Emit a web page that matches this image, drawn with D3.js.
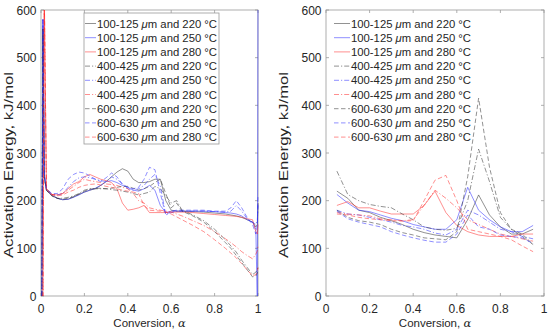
<!DOCTYPE html>
<html>
<head>
<meta charset="utf-8">
<script src="https://cdn.jsdelivr.net/npm/d3@7"></script>
<style>
  body { margin: 0; background: #fff; }
  text { font-family: "Liberation Sans", Arial, sans-serif; fill: #262626; }
</style>
</head>
<body>
<div id="canvas"></div>
<script>
// left panel: conversion grid and activation energy (kJ/mol)
const alphaL = [0.004, 0.009, 0.015, 0.025, 0.05, 0.075, 0.1, 0.125, 0.15, 0.175, 0.2, 0.225, 0.25, 0.275,
  0.3, 0.325, 0.35, 0.375, 0.4, 0.425, 0.45, 0.475, 0.5, 0.525, 0.55, 0.575, 0.6, 0.625, 0.65, 0.7,
  0.75, 0.8, 0.85, 0.875, 0.9, 0.925, 0.95, 0.975, 0.99, 0.997, 1.0];

const left100_220 = [0, 560, 250, 222, 210, 205, 202, 203, 208, 213, 218, 222, 225, 232, 240, 250, 260, 267, 262, 245, 238, 238, 240, 245, 245, 200, 180, 178, 178, 177, 176, 174, 172, 170, 168, 165, 160, 155, 145, 150, 195];
const left100_250 = [0, 580, 255, 222, 212, 205, 202, 203, 207, 212, 218, 222, 226, 232, 240, 242, 238, 232, 228, 222, 220, 225, 232, 222, 190, 175, 178, 178, 178, 178, 178, 177, 175, 174, 172, 168, 160, 155, 140, -20, 640];
const left100_280 = [0, 0, 640, 225, 213, 212, 215, 225, 235, 240, 250, 255, 250, 245, 242, 238, 225, 195, 180, 182, 185, 190, 175, 175, 175, 175, 176, 176, 176, 175, 173, 171, 169, 168, 167, 165, 162, 160, 135, 130, 150];
const left400_220 = [0, 560, 250, 222, 212, 205, 205, 207, 210, 215, 222, 225, 225, 225, 225, 223, 222, 220, 218, 215, 212, 215, 218, 230, 225, 210, 195, 200, 180, 170, 158, 140, 118, 105, 92, 75, 60, 45, 50, 55, 60];
const left400_250 = [0, 580, 255, 225, 213, 212, 215, 228, 240, 248, 250, 248, 245, 242, 240, 250, 245, 235, 225, 222, 225, 232, 245, 255, 230, 170, 175, 178, 178, 178, 178, 177, 176, 178, 190, 178, 162, 155, 150, 160, 190];
const left400_280 = [0, 0, 640, 225, 213, 212, 215, 222, 230, 238, 245, 242, 240, 238, 235, 234, 232, 228, 225, 215, 200, 195, 185, 182, 180, 178, 176, 172, 168, 158, 148, 135, 120, 112, 103, 93, 85, 78, 88, 95, 105];
const left600_220 = [0, 560, 250, 222, 210, 205, 203, 205, 208, 214, 220, 224, 226, 226, 225, 226, 228, 230, 230, 226, 222, 225, 230, 238, 245, 215, 185, 195, 178, 168, 155, 135, 112, 100, 85, 70, 55, 40, 42, 48, 55];
const left600_250 = [0, 580, 255, 225, 215, 215, 225, 245, 255, 260, 258, 252, 245, 240, 248, 258, 250, 235, 228, 225, 228, 245, 270, 265, 215, 170, 178, 180, 180, 180, 180, 178, 178, 185, 200, 185, 165, 150, 130, 150, 210];
const left600_280 = [0, 0, 640, 225, 212, 210, 212, 218, 222, 228, 232, 234, 235, 233, 230, 228, 225, 222, 220, 218, 215, 190, 180, 179, 178, 176, 172, 166, 160, 148, 135, 118, 100, 90, 80, 68, 55, 42, 45, 52, 60];

// right panel
const alphaR = [0.05, 0.1, 0.15, 0.2, 0.25, 0.3, 0.35, 0.4, 0.45, 0.5, 0.55, 0.6, 0.65, 0.7, 0.75, 0.8, 0.85, 0.9, 0.95];

const right100_220 = [220, 205, 180, 175, 165, 158, 150, 140, 133, 128, 125, 122, 160, 212, 170, 145, 130, 130, 140];
const right100_250 = [213, 195, 180, 177, 170, 163, 158, 150, 145, 140, 140, 160, 228, 180, 160, 145, 135, 135, 148];
const right100_280 = [190, 198, 185, 185, 178, 172, 172, 172, 190, 220, 175, 148, 135, 128, 125, 125, 125, 130, 130];
const right400_220 = [262, 213, 200, 192, 188, 185, 172, 160, 145, 140, 138, 142, 200, 308, 240, 165, 140, 125, 108];
const right400_250 = [180, 172, 170, 165, 160, 155, 148, 145, 140, 132, 128, 140, 180, 170, 155, 140, 135, 125, 120];
const right400_280 = [175, 172, 170, 168, 162, 160, 158, 160, 190, 222, 205, 185, 160, 150, 140, 130, 125, 120, 115];
const right600_220 = [180, 165, 158, 155, 150, 140, 133, 128, 122, 120, 118, 135, 250, 415, 270, 175, 140, 130, 108];
const right600_250 = [178, 162, 155, 150, 145, 135, 128, 122, 117, 113, 113, 130, 170, 145, 140, 128, 125, 122, 110];
const right600_280 = [172, 170, 165, 162, 160, 158, 157, 158, 200, 243, 253, 200, 140, 135, 130, 125, 118, 105, 93];

const labels = ["100-125", "100-125", "100-125", "400-425", "400-425", "400-425", "600-630", "600-630", "600-630"];
const temps = ["220", "250", "280", "220", "250", "280", "220", "250", "280"];
const yTicks = [0, 100, 200, 300, 400, 500, 600];
const xTicks = [0, 0.2, 0.4, 0.6, 0.8, 1];

const leftSeries = [left100_220, left100_250, left100_280, left400_220, left400_250, left400_280, left600_220, left600_250, left600_280];
const rightSeries = [right100_220, right100_250, right100_280, right400_220, right400_250, right400_280, right600_220, right600_250, right600_280];

const colors = ["#303030", "#2a2aff", "#ff2a2a"];
const dashes = [null, "5,2,1.2,2", "4.5,2.5"];

const width = 550, height = 336;
const svg = d3.select("#canvas").append("svg")
  .attr("width", width).attr("height", height);

function panel(id, x0, x1, alphas, series, legendBox, ylabX) {
  const top = 10, bottom = 296;
  const x = d3.scaleLinear().domain([0, 1]).range([x0, x1]);
  const y = d3.scaleLinear().domain([0, 600]).range([bottom, top]);

  svg.append("clipPath").attr("id", id)
    .append("rect").attr("x", x0 - 1).attr("y", top).attr("width", x1 - x0 + 2).attr("height", bottom - top);

  const g = svg.append("g");

  // axes box with inward ticks on all sides (drawn below the data)
  const axisCol = "#9a9a9a";
  const ax = g.append("g");
  ax.append("rect").attr("x", x0).attr("y", top).attr("width", x1 - x0).attr("height", bottom - top)
    .attr("fill", "none").attr("stroke", axisCol).attr("stroke-width", 0.8);
  xTicks.forEach(t => {
    ax.append("line").attr("x1", x(t)).attr("x2", x(t)).attr("y1", bottom).attr("y2", bottom - 3)
      .attr("stroke", axisCol).attr("stroke-width", 0.8);
    ax.append("line").attr("x1", x(t)).attr("x2", x(t)).attr("y1", top).attr("y2", top + 3)
      .attr("stroke", axisCol).attr("stroke-width", 0.8);
    ax.append("text").attr("x", x(t)).attr("y", bottom + 17)
      .attr("text-anchor", "middle").attr("font-size", 12).text(t);
  });
  yTicks.forEach(t => {
    ax.append("line").attr("x1", x0).attr("x2", x0 + 3).attr("y1", y(t)).attr("y2", y(t))
      .attr("stroke", axisCol).attr("stroke-width", 0.8);
    ax.append("line").attr("x1", x1).attr("x2", x1 - 3).attr("y1", y(t)).attr("y2", y(t))
      .attr("stroke", axisCol).attr("stroke-width", 0.8);
    ax.append("text").attr("x", x0 - 4.5).attr("y", y(t) + 4.5)
      .attr("text-anchor", "end").attr("font-size", 12).text(t);
  });

  const plot = g.append("g").attr("clip-path", `url(#${id})`);
  const line = d3.line().x((d, i) => x(alphas[i])).y(d => y(d));

  series.forEach((s, k) => {
    plot.append("path")
      .attr("d", line(s))
      .attr("fill", "none")
      .attr("stroke", colors[k % 3])
      .attr("stroke-width", 0.75)
      .attr("stroke-opacity", 0.7)
      .attr("stroke-dasharray", dashes[Math.floor(k / 3)]);
  });

  const xl = g.append("text").attr("x", (x0 + x1) / 2).attr("y", 327)
    .attr("text-anchor", "middle").attr("font-size", 11.5);
  xl.append("tspan").text("Conversion, ");
  xl.append("tspan").attr("font-style", "italic").attr("font-family", "DejaVu Serif").text("α");

  g.append("text").attr("transform", `translate(${ylabX},165) rotate(-90)`)
    .attr("text-anchor", "middle").attr("font-size", 12)
    .attr("textLength", 186).attr("lengthAdjust", "spacingAndGlyphs")
    .text("Activation Energy, kJ/mol");

  // legend
  const lg = g.append("g");
  if (legendBox) {
    lg.append("rect").attr("x", legendBox.x).attr("y", 13).attr("width", legendBox.w).attr("height", 131)
      .attr("fill", "#fff").attr("stroke", axisCol).attr("stroke-width", 0.8);
  }
  const lx0 = legendBox ? legendBox.x + 1 : x0 + 8;
  const lx1 = legendBox ? legendBox.x + 12 : x0 + 24;
  labels.forEach((lab, k) => {
    const yy = 23.5 + k * 14.2;
    lg.append("line").attr("x1", lx0).attr("x2", lx1).attr("y1", yy).attr("y2", yy)
      .attr("stroke", colors[k % 3]).attr("stroke-width", 0.75).attr("stroke-opacity", 0.7)
      .attr("stroke-dasharray", dashes[Math.floor(k / 3)]);
    const t = lg.append("text").attr("x", lx1 + 1).attr("y", yy + 4).attr("font-size", 11.3);
    t.append("tspan").text(lab + " ");
    t.append("tspan").attr("font-style", "italic").text("μ");
    t.append("tspan").text("m and " + temps[k] + " °C");
  });
}

panel("clipL", 41, 258, alphaL, leftSeries, { x: 84, w: 135 }, 12.5);
panel("clipR", 326, 544, alphaR, rightSeries, null, 288);
</script>
</body>
</html>
